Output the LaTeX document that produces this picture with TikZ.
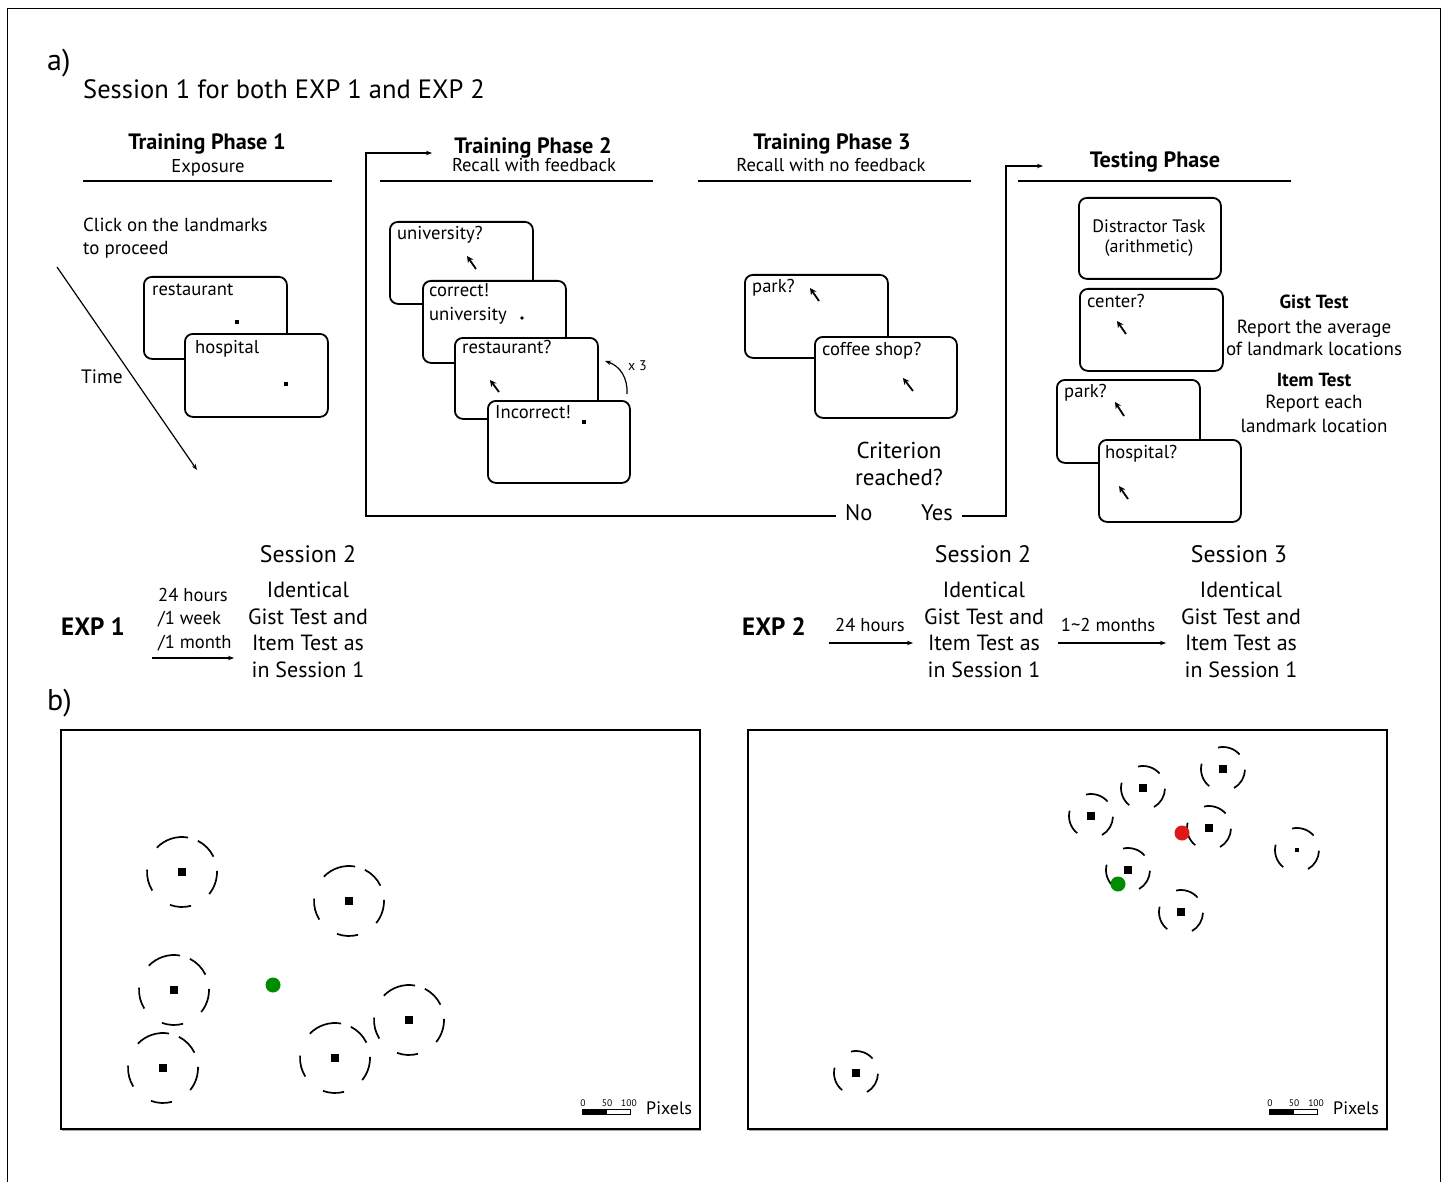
\documentclass[tikz,border=0pt]{standalone}
\usepackage{fontspec}
\setmainfont{PT Sans}
\usetikzlibrary{arrows.meta}
\newcommand\fsz[1]{\fontsize{#1pt}{1.2\dimexpr#1pt\relax}\selectfont}
\begin{document}
\begin{tikzpicture}[x=1pt,y=-1pt,
  txt/.style={inner sep=0pt,anchor=base},
  txtl/.style={inner sep=0pt,anchor=base west},
  scr/.style={draw,line width=1.8pt,rounded corners=8pt,fill=white,anchor=north west,inner sep=0pt},
  bt/.style={txtl,font=\fsz{18.6}},
  hd/.style={txt,font=\fsz{22.2}\bfseries},
  sub/.style={txt,font=\fsz{18.6}},
  hline/.style={line width=1.4pt},
  arr/.style={line width=1.2pt,-{Stealth[length=6pt,width=4.5pt]}},
  cursor/.style={line width=1.8pt,-{Stealth[length=6.5pt,width=6.5pt]}},
  blk/.style={txt,font=\fsz{22},align=center},
  ringline/.style={line width=1.7pt},
  bigring/.pic={
    \begin{scope}[yscale=-1]
      \draw[ringline] (80:35) arc[start angle=80,end angle=136,radius=35];
      \draw[ringline] (26:35) arc[start angle=26,end angle=63,radius=35];
      \draw[ringline] (-39:35) arc[start angle=-39,end angle=2,radius=35];
      \draw[ringline] (-110:35) arc[start angle=-110,end angle=-75,radius=35];
      \draw[ringline] (176:35) arc[start angle=176,end angle=212,radius=35];
    \end{scope}
    \fill (-4,-4) rectangle (4,4);},
  smallring/.pic={
    \begin{scope}[yscale=-1]
      \draw[ringline] (41:22) arc[start angle=41,end angle=103,radius=22];
      \draw[ringline] (166:22) arc[start angle=166,end angle=231,radius=22];
      \draw[ringline] (-60:22) arc[start angle=-60,end angle=-2,radius=22];
    \end{scope}
    \fill (-4,-4) rectangle (4,4);},
  tinyring/.pic={
    \begin{scope}[yscale=-1]
      \draw[ringline] (41:22) arc[start angle=41,end angle=103,radius=22];
      \draw[ringline] (166:22) arc[start angle=166,end angle=231,radius=22];
      \draw[ringline] (-60:22) arc[start angle=-60,end angle=-2,radius=22];
    \end{scope}
    \fill (-2,-2) rectangle (2,2);},
]
\useasboundingbox (0,0) rectangle (1445,1182);
\fill[white] (0,0) rectangle (1445,1182);
% outer frame
\draw[line width=1pt] (7,1182) -- (7,9) -- (1440,9) -- (1440,1182);

% labels
\node[txtl,font=\fsz{30}] (la) at (47,71) {a)};
\node[txtl,font=\fsz{30}] (lb) at (47,710) {b)};
\node[txtl,font=\fsz{26.5}] (title) at (83,99) {Session 1 for both EXP 1 and EXP 2};

% headers
\node[hd] (tp1) at (207,150) {Training Phase 1};
\node[sub] (tp1s) at (208,173) {Exposure};
\draw[hline] (83,181) -- (332,181);
\node[hd] (tp2) at (533,154) {Training Phase 2};
\node[sub] (tp2s) at (534,172) {Recall with feedback};
\draw[hline] (380,181) -- (653,181);
\node[hd] (tp3) at (832,150) {Training Phase 3};
\node[sub] (tp3s) at (831,172) {Recall with no feedback};
\draw[hline] (698,181) -- (971,181);
\node[hd] (tst) at (1155,168) {Testing Phase};
\draw[hline] (1018,181) -- (1291,181);

% training phase 1
\node[txtl,font=\fsz{18.9}] (click) at (83,232) {Click on the landmarks};
\node[txtl,font=\fsz{18.9}] (click2) at (83,255) {to proceed};
\coordinate (t0) at (57,267);
\coordinate (t1) at (197,470);
\draw[arr] (t0) -- (t1);
\node[txtl,font=\fsz{19.4}] (time) at (81,383) {Time};
\node[scr,minimum width=143pt,minimum height=82pt] (b11) at (143,276) {};
\node[bt] (b11t) at (152,295) {restaurant};
\fill (235,320) rectangle +(4,4);
\node[scr,minimum width=143pt,minimum height=83pt] (b12) at (184,333) {};
\node[bt] (b12t) at (195,353) {hospital};
\fill (284,382) rectangle +(4,4);

% training phase 2
\node[scr,minimum width=143pt,minimum height=82pt] (b21) at (389,221) {};
\node[bt] (b21t) at (397,240) {university?};
\draw[cursor] (476,269) -- (467,256);
\node[scr,minimum width=143pt,minimum height=82pt] (b22) at (422,280) {};
\node[bt] (b22t) at (429,297) {correct!};
\node[bt] (b22u) at (429,320) {university};
\fill (522,318) circle (1.8);
\node[scr,minimum width=143pt,minimum height=81pt] (b23) at (454,337) {};
\node[bt] (b23t) at (462,353) {restaurant?};
\draw[cursor] (499,392) -- (490,380);
\node[scr,minimum width=142pt,minimum height=82pt] (b24) at (487,400) {};
\node[bt] (b24t) at (495,418) {Incorrect!};
\fill (582,420) rectangle +(3.5,3.5);
\coordinate (x3s) at (627,394);
\coordinate (x3e) at (605,361);
\draw[arr] (x3s) .. controls (628,378) and (620,366) .. (x3e);
\node[txtl,font=\fsz{14}] (x3) at (628,370) {x 3};

% training phase 3
\node[scr,minimum width=143pt,minimum height=83pt] (b31) at (744,274) {};
\node[bt] (b31t) at (752,293) {park?};
\draw[cursor] (819,301) -- (810,288);
\node[scr,minimum width=142pt,minimum height=81pt] (b32) at (814,336) {};
\node[bt] (b32t) at (822,355) {coffee shop?};
\draw[cursor] (913,391) -- (903,378);
\node[txt,font=\fsz{23},align=center] (crit) at (899,485) {Criterion\\[-0.6pt]reached?};
\node[txtl,font=\fsz{22.5}] (no) at (845,520) {No};
\node[txtl,font=\fsz{22.5}] (yes) at (921,520) {Yes};
\coordinate (lp1) at (366,516);
\coordinate (lp2) at (366,153);
\coordinate (lp3) at (432,153);
\draw[arr] ([xshift=-9pt]no.west |- 0,516) -- (lp1) -- (lp2) -- (lp3);
\coordinate (yp1) at (1006,516);
\coordinate (yp2) at (1006,166);
\coordinate (yp3) at (1043,166);
\draw[arr] ([xshift=9pt]yes.east |- 0,516) -- (yp1) -- (yp2) -- (yp3);

% testing phase
\node[scr,minimum width=142pt,minimum height=81pt] (b41) at (1078,197) {};
\node[txt,font=\fsz{18},align=center] (b41t) at (1149,253) {Distractor Task\\[-1.6pt](arithmetic)};
\node[scr,minimum width=143pt,minimum height=82pt] (b42) at (1079,288) {};
\node[bt] (b42t) at (1087,307) {center?};
\draw[cursor] (1126,334) -- (1117,321);
\node[scr,minimum width=143pt,minimum height=83pt] (b43) at (1056,379) {};
\node[bt] (b43t) at (1064,397) {park?};
\draw[cursor] (1124,416) -- (1115,402);
\node[scr,minimum width=142pt,minimum height=82pt] (b44) at (1098,439) {};
\node[bt] (b44t) at (1105,458) {hospital?};
\draw[cursor] (1128,499) -- (1119,486);
\node[txt,font=\fsz{19}\bfseries] (gist) at (1314,308) {Gist Test};
\node[txt,font=\fsz{19},align=center] (gistd) at (1314,355) {Report the average\\[-0.8pt]of landmark locations};
\node[txt,font=\fsz{19}\bfseries] (item) at (1314,386) {Item Test};
\node[txt,font=\fsz{19},align=center] (itemd) at (1314,432) {Report each\\[1.2pt]landmark location};

% sessions
\node[txt,font=\fsz{23.8}] (s2a) at (308,562) {Session 2};
\node[blk] (s2at) at (308,677) {Identical\\[0pt]Gist Test and\\[0pt]Item Test as\\[0pt]in Session 1};
\node[txtl,font=\fsz{25}\bfseries] (exp1) at (61,635) {EXP 1};
\node[txtl,font=\fsz{18.6},align=left] (d1) at (158,648) {24 hours\\[0.7pt]/1 week\\[0.7pt]/1 month};
\coordinate (e1a) at (152,658);
\coordinate (e1b) at (234,658);
\draw[arr] (e1a) -- (e1b);

\node[txtl,font=\fsz{25}\bfseries] (exp2) at (742,635) {EXP 2};
\node[txt,font=\fsz{18.6}] (d2) at (870,631) {24 hours};
\coordinate (e2a) at (829,643);
\coordinate (e2b) at (913,643);
\draw[arr] (e2a) -- (e2b);
\node[txt,font=\fsz{23.8}] (s2b) at (983,562) {Session 2};
\node[blk] (s2bt) at (984,677) {Identical\\[0pt]Gist Test and\\[0pt]Item Test as\\[0pt]in Session 1};
\node[txt,font=\fsz{18.6}] (d3) at (1108,631) {1\textasciitilde2 months};
\coordinate (e3a) at (1058,643);
\coordinate (e3b) at (1166,643);
\draw[arr] (e3a) -- (e3b);
\node[txt,font=\fsz{23.8}] (s3) at (1239,562) {Session 3};
\node[blk] (s3t) at (1241,677) {Identical\\[0pt]Gist Test and\\[0pt]Item Test as\\[0pt]in Session 1};

% panel b
\draw[gray!70,line width=1.5pt] (62,1130.5) -- (700.5,1130.5) -- (700.5,731);
\node[draw,line width=1.5pt,anchor=north west,minimum width=639pt,minimum height=399pt,inner sep=0pt] (pl) at (60,729) {};
\draw[gray!70,line width=1.5pt] (749,1130.5) -- (1387.5,1130.5) -- (1387.5,731);
\node[draw,line width=1.5pt,anchor=north west,minimum width=639pt,minimum height=399pt,inner sep=0pt] (pr) at (747,729) {};

\pic at (182,872) {bigring};
\pic at (349,901) {bigring};
\pic at (174,990) {bigring};
\pic at (163,1068) {bigring};
\pic at (335,1058) {bigring};
\pic at (409,1020) {bigring};
\fill[green!55!black] (273,985) circle (7.5);

\pic at (1091,816) {smallring};
\pic at (1143,788) {smallring};
\pic at (1223,769) {smallring};
\pic at (1209,828) {smallring};
\pic at (1128,870) {smallring};
\pic at (1181,912) {smallring};
\pic at (1297,850) {tinyring};
\pic at (856,1073) {smallring};
\fill[red!85!black!90] (1182,833) circle (7.5);
\fill[green!55!black] (1118,884) circle (7.5);

% scale bars
\fill (582,1109) rectangle (607,1114);
\draw[line width=0.6pt] (582,1109) rectangle (630,1114);
\node[txt,font=\fsz{9.5}] (sl0) at (583,1106) {0};
\node[txt,font=\fsz{9.5}] (sl50) at (607,1106) {50};
\node[txt,font=\fsz{9.5}] (sl100) at (629,1106) {100};
\node[txtl,font=\fsz{18}] (pxl) at (646,1114) {Pixels};
\fill (1269,1109) rectangle (1294,1114);
\draw[line width=0.6pt] (1269,1109) rectangle (1317,1114);
\node[txt,font=\fsz{9.5}] (sr0) at (1270,1106) {0};
\node[txt,font=\fsz{9.5}] (sr50) at (1294,1106) {50};
\node[txt,font=\fsz{9.5}] (sr100) at (1316,1106) {100};
\node[txtl,font=\fsz{18}] (pxr) at (1333,1114) {Pixels};
\end{tikzpicture}
\end{document}
